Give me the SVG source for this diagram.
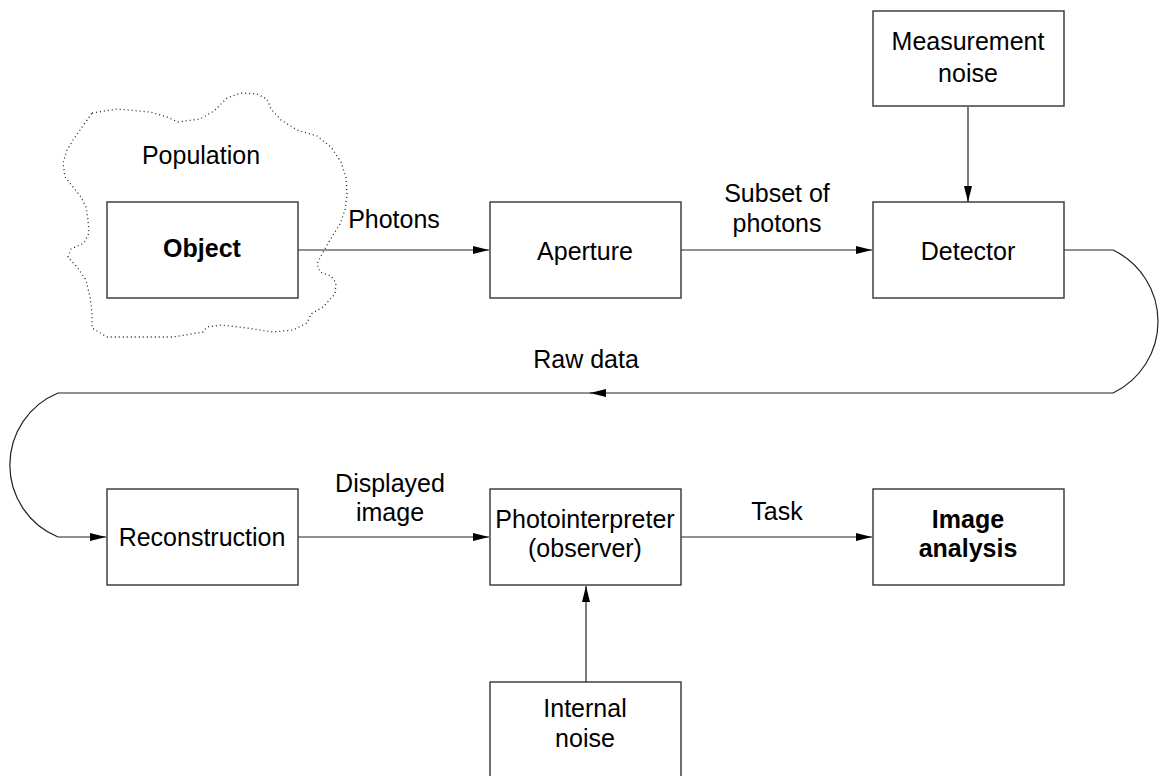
<svg xmlns="http://www.w3.org/2000/svg" width="1160" height="776" viewBox="0 0 1160 776">
  <style>
    .box { fill: #fff; stroke: #333; stroke-width: 1.4; }
    .lbl { font-family: "Liberation Sans", Arial, sans-serif; font-size: 25px; fill: #000; text-anchor: middle; }
    .bold { font-weight: bold; }
    .wire { fill: none; stroke: #222; stroke-width: 1.2; }
    .cloud { fill: none; stroke: #222; stroke-width: 1.3; stroke-dasharray: 1 3; stroke-linejoin: round; }
  </style>
  <defs>
    <marker id="arrow" markerUnits="userSpaceOnUse" markerWidth="16" markerHeight="8" refX="16" refY="4" orient="auto">
      <path d="M0,0 L16,4 L0,8 z" fill="#000"/>
    </marker>
  </defs>
  <rect width="1160" height="776" fill="#fff"/>

  <!-- population outline around the object -->
  <g id="population">
    <path class="cloud" d="M92,113 L117,109 L150,112 L167,117 L178,122 L200,119 L214,111 L227,98 L241,93 L257,94 L267,99 L271,109 L281,120 L297,130 L317,136 L331,147 L341,162 L346,178 L347,194 L345,210 L340,224 L330,240 L322,254 L317,264 L320,272 L331,276 L336,283 L335,294 L323,307 L311,314 L307,323 L293,330 L273,332 L247,328 L221,325 L207,327 L203,332 L173,337 L140,337 L107,337 L92,328 L92,313 L90,297 L86,280 L77,267 L68,257 L71,249 L84,243 L89,233 L88,220 L86,207 L81,197 L73,187 L65,177 L63,163 L67,150 L73,140 L80,130 Z"/>
    <text class="lbl" x="201" y="164">Population</text>
  </g>

  <!-- connectors -->
  <g id="connectors">
    <path class="wire" d="M298,250 H489" marker-end="url(#arrow)"/>
    <path class="wire" d="M681,250 H872" marker-end="url(#arrow)"/>
    <path class="wire" d="M968,107 V202" marker-end="url(#arrow)"/>
    <path class="wire" d="M1064,250 H1113 A79.3,79.3 0 0 1 1113,393 H590" marker-end="url(#arrow)"/>
    <path class="wire" d="M592,393 H58 A77.9,77.9 0 0 0 58,537 H106" marker-end="url(#arrow)"/>
    <path class="wire" d="M298,537 H489" marker-end="url(#arrow)"/>
    <path class="wire" d="M681,537 H872" marker-end="url(#arrow)"/>
    <path class="wire" d="M586,682 V586" marker-end="url(#arrow)"/>
    <text class="lbl" x="394" y="228">Photons</text>
    <text class="lbl" x="777" y="202">Subset of</text>
    <text class="lbl" x="777" y="232">photons</text>
    <text class="lbl" x="586" y="368">Raw data</text>
    <text class="lbl" x="390" y="492">Displayed</text>
    <text class="lbl" x="390" y="521">image</text>
    <text class="lbl" x="777" y="520">Task</text>
  </g>

  <g id="object">
    <rect class="box" x="107" y="202" width="191" height="96"/>
    <text class="lbl bold" x="202" y="257">Object</text>
  </g>
  <g id="aperture">
    <rect class="box" x="490" y="202" width="191" height="96"/>
    <text class="lbl" x="585" y="260">Aperture</text>
  </g>
  <g id="measurement-noise">
    <rect class="box" x="873" y="11" width="191" height="95"/>
    <text class="lbl" x="968" y="50">Measurement</text>
    <text class="lbl" x="968" y="82">noise</text>
  </g>
  <g id="detector">
    <rect class="box" x="873" y="202" width="191" height="96"/>
    <text class="lbl" x="968" y="260">Detector</text>
  </g>
  <g id="reconstruction">
    <rect class="box" x="107" y="489" width="191" height="96"/>
    <text class="lbl" x="202" y="546">Reconstruction</text>
  </g>
  <g id="photointerpreter">
    <rect class="box" x="490" y="489" width="191" height="96"/>
    <text class="lbl" x="585" y="528">Photointerpreter</text>
    <text class="lbl" x="585" y="557">(observer)</text>
  </g>
  <g id="image-analysis">
    <rect class="box" x="873" y="489" width="191" height="96"/>
    <text class="lbl bold" x="968" y="528">Image</text>
    <text class="lbl bold" x="968" y="557">analysis</text>
  </g>
  <g id="internal-noise">
    <rect class="box" x="490" y="682" width="191" height="110"/>
    <text class="lbl" x="585" y="717">Internal</text>
    <text class="lbl" x="585" y="747">noise</text>
  </g>
</svg>
